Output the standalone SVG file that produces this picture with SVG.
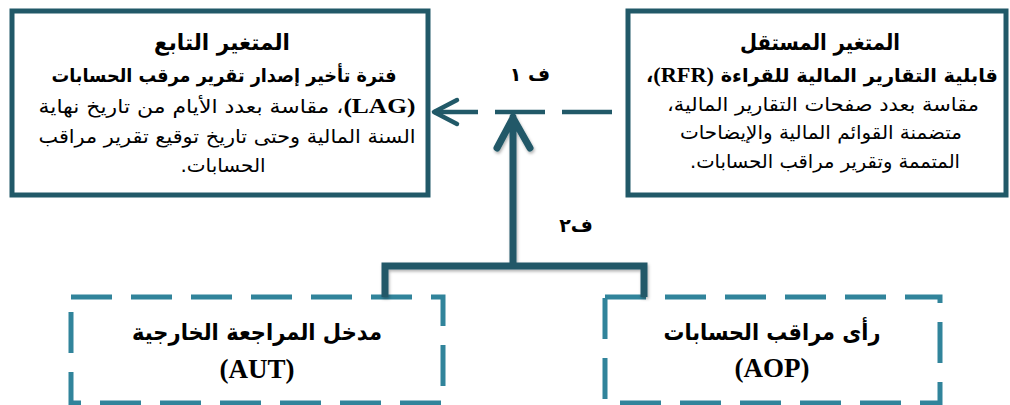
<svg xmlns="http://www.w3.org/2000/svg" width="1010" height="405" viewBox="0 0 1010 405">
<style>
.solid{fill:#fff;stroke:#215968;stroke-width:5}
.dash{fill:#fff;stroke:#31849b;stroke-width:5;stroke-dasharray:41 19}
.ar{font-family:"DejaVu Sans",sans-serif;fill:#000;direction:rtl;text-anchor:middle}
.b{font-weight:bold}
.lat{font-family:"Liberation Serif",serif;font-weight:bold}
.conn{fill:none;stroke:#215968}
</style>
<defs>
<filter id="sh" x="-10%" y="-10%" width="120%" height="130%">
<feDropShadow dx="1" dy="2" stdDeviation="1.5" flood-color="#000" flood-opacity="0.3"/>
</filter>
</defs>
<g id="dependent">
<rect class="solid" x="12" y="11" width="416" height="184"/>
<text class="ar b" x="222" y="50" font-size="22" textLength="136" lengthAdjust="spacingAndGlyphs">المتغير التابع</text>
<text class="ar b" x="224" y="82" font-size="19" textLength="345" lengthAdjust="spacingAndGlyphs">فترة تأخير إصدار تقرير مرقب الحسابات</text>
<text class="ar" x="227" y="113" font-size="19" textLength="377" lengthAdjust="spacingAndGlyphs"><tspan class="lat" font-size="22">(LAG)</tspan>، مقاسة  بعدد الأيام من تاريخ نهاية</text>
<text class="ar" x="227" y="143" font-size="19" textLength="377" lengthAdjust="spacingAndGlyphs">السنة المالية وحتى تاريخ توقيع تقرير مراقب</text>
<text class="ar" x="223" y="172" font-size="19" textLength="85" lengthAdjust="spacingAndGlyphs">الحسابات.</text>
</g>
<g id="independent">
<rect class="solid" x="628" y="11" width="378" height="184"/>
<text class="ar b" x="820" y="50" font-size="22" textLength="160" lengthAdjust="spacingAndGlyphs">المتغير المستقل</text>
<text class="ar b" x="822" y="82" font-size="19" textLength="352" lengthAdjust="spacingAndGlyphs">قابلية التقارير المالية للقراءة <tspan class="lat" font-size="22">(RFR)</tspan>،</text>
<text class="ar" x="823" y="111" font-size="19" textLength="312" lengthAdjust="spacingAndGlyphs">مقاسة بعدد صفحات التقارير المالية،</text>
<text class="ar" x="821" y="139" font-size="19" textLength="282" lengthAdjust="spacingAndGlyphs">متضمنة القوائم المالية والإيضاحات</text>
<text class="ar" x="825" y="168" font-size="19" textLength="270" lengthAdjust="spacingAndGlyphs">المتممة وتقرير مراقب الحسابات.</text>
</g>
<g id="aut">
<rect class="dash" x="71" y="297" width="372" height="106"/>
<text class="ar b" x="257" y="340" font-size="23" textLength="250" lengthAdjust="spacingAndGlyphs">مدخل المراجعة الخارجية</text>
<text class="lat" x="257" y="378" font-size="27" text-anchor="middle">(AUT)</text>
</g>
<g id="aop">
<rect class="dash" x="605" y="297" width="335" height="106"/>
<text class="ar b" x="772" y="340" font-size="23" textLength="217" lengthAdjust="spacingAndGlyphs">رأى مراقب الحسابات</text>
<text class="lat" x="772" y="377" font-size="27" text-anchor="middle">(AOP)</text>
</g>
<g id="connectors">
<g filter="url(#sh)">
<path class="conn" stroke-width="7" d="M385,297 V266 H644 V297"/>
<path class="conn" stroke-width="7" stroke-linecap="round" stroke-linejoin="round" d="M513,263 V117 M497,148 L513,118 L530,148"/>
</g>
<path class="conn" stroke-width="4.5" stroke-dasharray="50 17" d="M612,112 H434"/>
<path class="conn" stroke-width="4.5" stroke-linecap="round" stroke-linejoin="round" d="M457,100 L434,112 L457,124"/>
<text class="ar b" x="530" y="81" font-size="19">ف ١</text>
<text class="ar b" x="576" y="232" font-size="19">ف٢</text>
</g>
</svg>
